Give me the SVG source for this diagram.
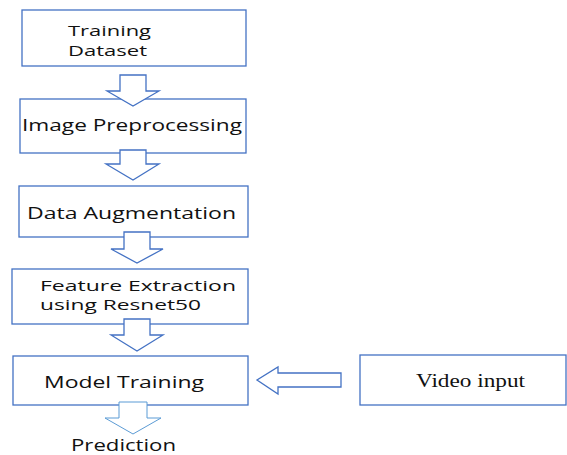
<svg xmlns="http://www.w3.org/2000/svg" width="567" height="455" viewBox="0 0 567 455">
<style>
.box{fill:#fff;stroke:#4472C4;stroke-width:1.3}
.arr{fill:#fff;stroke:#4472C4;stroke-width:1.3;stroke-linejoin:miter}
.arr2{fill:#fff;stroke:#5B9BD5;stroke-width:1}
.t{font-family:"Open Sans","DejaVu Sans",sans-serif;font-size:17px;fill:#111}
.t2{font-family:"Open Sans","DejaVu Sans",sans-serif;font-size:15px;fill:#111}
.s{font-family:"Liberation Serif","Times New Roman",serif;font-size:19px;fill:#111}
</style>
<rect width="567" height="455" fill="#fff"/>
<g id="n1"><rect class="box" x="22" y="10" width="224" height="56"/>
<text class="t2" x="68" y="36" textLength="83" lengthAdjust="spacingAndGlyphs">Training</text>
<text class="t2" x="68" y="56" textLength="79" lengthAdjust="spacingAndGlyphs">Dataset</text></g>
<g id="n2"><rect class="box" x="20" y="99" width="226" height="54"/>
<text class="t" x="22" y="131" textLength="220" lengthAdjust="spacingAndGlyphs">Image Preprocessing</text></g>
<g id="n3"><rect class="box" x="19" y="186" width="229" height="51"/>
<text class="t" x="27" y="219" textLength="209" lengthAdjust="spacingAndGlyphs">Data Augmentation</text></g>
<g id="n4"><rect class="box" x="12" y="269" width="236" height="55"/>
<text class="t2" x="40" y="291" textLength="196" lengthAdjust="spacingAndGlyphs">Feature Extraction</text>
<text class="t2" x="40" y="310" textLength="161" lengthAdjust="spacingAndGlyphs">using Resnet50</text></g>
<g id="n5"><rect class="box" x="13" y="356" width="235" height="49"/>
<text class="t" x="44" y="388" textLength="160" lengthAdjust="spacingAndGlyphs">Model Training</text></g>
<g id="n6"><rect class="box" x="360" y="355" width="206" height="50"/>
<text class="s" x="416" y="387" textLength="109" lengthAdjust="spacingAndGlyphs">Video input</text></g>
<g id="n7"><text class="t" x="71" y="451" textLength="105" lengthAdjust="spacingAndGlyphs">Prediction</text></g>
<g id="connectors">
<polygon class="arr" points="120,75 146,75 146,91 159,91 133,106 107,91 120,91"/>
<polygon class="arr" points="120,150 146,150 146,164 159,164 133,180 106,164 120,164"/>
<polygon class="arr" points="124,232 150,232 150,249 163,249 137,263 111,249 124,249"/>
<polygon class="arr" points="124,319 150,319 150,335 163,335 137,351 111,335 124,335"/>
<polygon class="arr2" points="119,402 147,402 147,418 161,418 133,434 105,418 119,418"/>
<polygon class="arr" points="341,373 341,387 278,387 278,394 257,380 278,367 278,373"/>
</g>
</svg>
